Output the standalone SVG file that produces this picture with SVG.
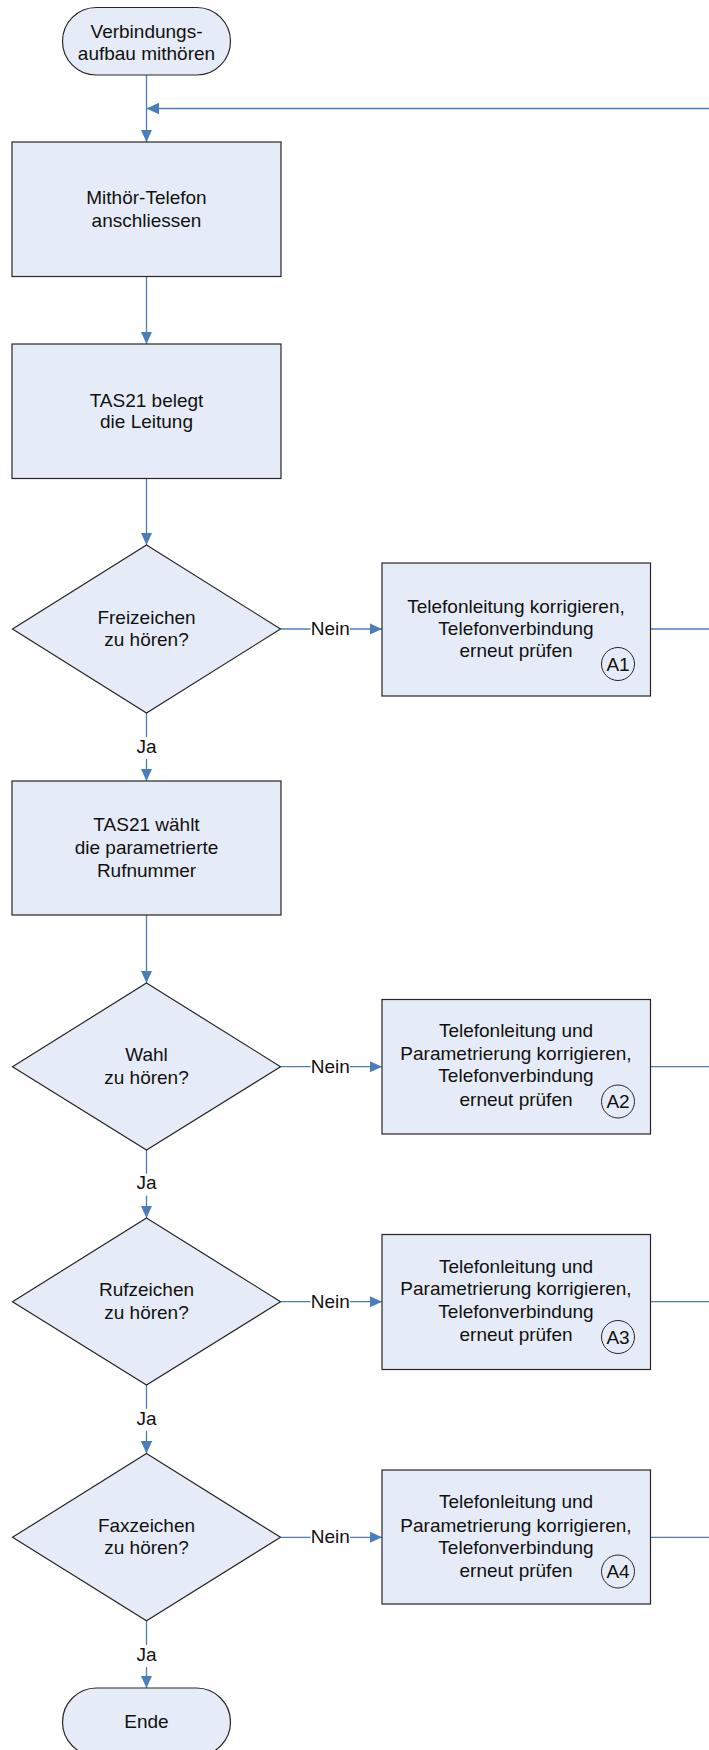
<svg xmlns="http://www.w3.org/2000/svg" width="709" height="1750" viewBox="0 0 709 1750">
<defs>
<style>
.shape{fill:#E6ECF7;stroke:#262626;stroke-width:1.2}
.circ{fill:none;stroke:#262626;stroke-width:1}
.t{font-family:"Liberation Sans",Arial,sans-serif;font-size:19px;fill:#111;text-anchor:middle}
.c{fill:none;stroke:#4A7EBB;stroke-width:1.3}
.lbg{fill:#fff}
</style>
<marker id="arr" markerUnits="userSpaceOnUse" markerWidth="13" markerHeight="12" refX="12.5" refY="5.75" orient="auto">
<path d="M0,0 L12.5,5.75 L0,11.5 z" fill="#4A7EBB"/>
</marker>
</defs>
<rect width="709" height="1750" fill="#fff"/>

<g id="connectors">
<line class="c" x1="146.5" y1="75" x2="146.5" y2="142" marker-end="url(#arr)"/>
<line class="c" x1="709" y1="108.5" x2="146.5" y2="108.5" marker-end="url(#arr)"/>
<line class="c" x1="146.5" y1="276.5" x2="146.5" y2="344" marker-end="url(#arr)"/>
<line class="c" x1="146.5" y1="478.5" x2="146.5" y2="545" marker-end="url(#arr)"/>
<line class="c" x1="280.5" y1="629" x2="382" y2="629" marker-end="url(#arr)"/>
<line class="c" x1="650.5" y1="629" x2="709" y2="629"/>
<line class="c" x1="146.5" y1="713" x2="146.5" y2="781" marker-end="url(#arr)"/>
<line class="c" x1="146.5" y1="915" x2="146.5" y2="983" marker-end="url(#arr)"/>
<line class="c" x1="280.5" y1="1066.7" x2="382" y2="1066.7" marker-end="url(#arr)"/>
<line class="c" x1="650.5" y1="1066.7" x2="709" y2="1066.7"/>
<line class="c" x1="146.5" y1="1150" x2="146.5" y2="1218" marker-end="url(#arr)"/>
<line class="c" x1="280.5" y1="1301.7" x2="382" y2="1301.7" marker-end="url(#arr)"/>
<line class="c" x1="650.5" y1="1301.7" x2="709" y2="1301.7"/>
<line class="c" x1="146.5" y1="1385" x2="146.5" y2="1453.5" marker-end="url(#arr)"/>
<line class="c" x1="280.5" y1="1537.3" x2="382" y2="1537.3" marker-end="url(#arr)"/>
<line class="c" x1="650.5" y1="1537.3" x2="709" y2="1537.3"/>
<line class="c" x1="146.5" y1="1620.7" x2="146.5" y2="1688" marker-end="url(#arr)"/>
<!-- labels -->
<rect class="lbg" x="310.5" y="617" width="39.5" height="22"/>
<text class="t" x="330.3" y="635">Nein</text>
<rect class="lbg" x="310.5" y="1054.7" width="39.5" height="22"/>
<text class="t" x="330.3" y="1072.7">Nein</text>
<rect class="lbg" x="310.5" y="1289.7" width="39.5" height="22"/>
<text class="t" x="330.3" y="1307.7">Nein</text>
<rect class="lbg" x="310.5" y="1525.3" width="39.5" height="22"/>
<text class="t" x="330.3" y="1543.3">Nein</text>
<rect class="lbg" x="135" y="737" width="23" height="22"/>
<text class="t" x="146.5" y="752.7">Ja</text>
<rect class="lbg" x="135" y="1173.6" width="23" height="22"/>
<text class="t" x="146.5" y="1189.3">Ja</text>
<rect class="lbg" x="135" y="1408.8" width="23" height="22"/>
<text class="t" x="146.5" y="1424.5">Ja</text>
<rect class="lbg" x="135" y="1645" width="23" height="22"/>
<text class="t" x="146.5" y="1660.7">Ja</text>
</g>

<g id="start">
<rect class="shape" x="62.5" y="7.5" width="168" height="67.5" rx="33.75" ry="33.75"/>
<text class="t" x="146.5" y="38">Verbindungs-</text>
<text class="t" x="146.5" y="59.5">aufbau mithören</text>
</g>

<g id="b1">
<rect class="shape" x="12" y="142" width="269" height="134.5"/>
<text class="t" x="146.5" y="204">Mithör-Telefon</text>
<text class="t" x="146.5" y="226.5">anschliessen</text>
</g>

<g id="b2">
<rect class="shape" x="12" y="344" width="269" height="134.5"/>
<text class="t" x="146.5" y="406.5">TAS21 belegt</text>
<text class="t" x="146.5" y="428">die Leitung</text>
</g>

<g id="d1">
<polygon class="shape" points="146.5,545 280.5,629 146.5,713 12.5,629"/>
<text class="t" x="146.5" y="623.5">Freizeichen</text>
<text class="t" x="146.5" y="646">zu hören?</text>
</g>

<g id="e1">
<rect class="shape" x="382" y="563" width="268.5" height="133"/>
<text class="t" x="516" y="612.5">Telefonleitung korrigieren,</text>
<text class="t" x="516" y="634.5">Telefonverbindung</text>
<text class="t" x="516" y="657">erneut prüfen</text>
<circle class="circ" cx="618" cy="664" r="16.5"/>
<text class="t" x="618" y="670.5">A1</text>
</g>

<g id="b3">
<rect class="shape" x="12" y="781" width="269" height="134"/>
<text class="t" x="146.5" y="830.7">TAS21 wählt</text>
<text class="t" x="146.5" y="853.5">die parametrierte</text>
<text class="t" x="146.5" y="876.7">Rufnummer</text>
</g>

<g id="d2">
<polygon class="shape" points="146.5,983 280.5,1066.7 146.5,1150 12.5,1066.7"/>
<text class="t" x="146.5" y="1061">Wahl</text>
<text class="t" x="146.5" y="1083.5">zu hören?</text>
</g>

<g id="e2">
<rect class="shape" x="382" y="999.5" width="268.5" height="134.5"/>
<text class="t" x="516" y="1036.7">Telefonleitung und</text>
<text class="t" x="516" y="1059.5">Parametrierung korrigieren,</text>
<text class="t" x="516" y="1082">Telefonverbindung</text>
<text class="t" x="516" y="1106">erneut prüfen</text>
<circle class="circ" cx="618" cy="1101.5" r="16.5"/>
<text class="t" x="618" y="1108">A2</text>
</g>

<g id="d3">
<polygon class="shape" points="146.5,1218 280.5,1301.7 146.5,1385 12.5,1301.7"/>
<text class="t" x="146.5" y="1296">Rufzeichen</text>
<text class="t" x="146.5" y="1318.5">zu hören?</text>
</g>

<g id="e3">
<rect class="shape" x="382" y="1234.5" width="268.5" height="135"/>
<text class="t" x="516" y="1272.7">Telefonleitung und</text>
<text class="t" x="516" y="1295.3">Parametrierung korrigieren,</text>
<text class="t" x="516" y="1318.3">Telefonverbindung</text>
<text class="t" x="516" y="1341">erneut prüfen</text>
<circle class="circ" cx="618" cy="1337" r="16.5"/>
<text class="t" x="618" y="1343.5">A3</text>
</g>

<g id="d4">
<polygon class="shape" points="146.5,1453.5 280.5,1537.3 146.5,1620.7 12.5,1537.3"/>
<text class="t" x="146.5" y="1531.7">Faxzeichen</text>
<text class="t" x="146.5" y="1553.5">zu hören?</text>
</g>

<g id="e4">
<rect class="shape" x="382" y="1470" width="268.5" height="134"/>
<text class="t" x="516" y="1508.3">Telefonleitung und</text>
<text class="t" x="516" y="1531.7">Parametrierung korrigieren,</text>
<text class="t" x="516" y="1554">Telefonverbindung</text>
<text class="t" x="516" y="1577">erneut prüfen</text>
<circle class="circ" cx="618" cy="1571.5" r="16.5"/>
<text class="t" x="618" y="1578">A4</text>
</g>

<g id="end">
<rect class="shape" x="62.5" y="1688" width="168" height="68" rx="34" ry="34"/>
<text class="t" x="146.5" y="1728">Ende</text>
</g>
</svg>
